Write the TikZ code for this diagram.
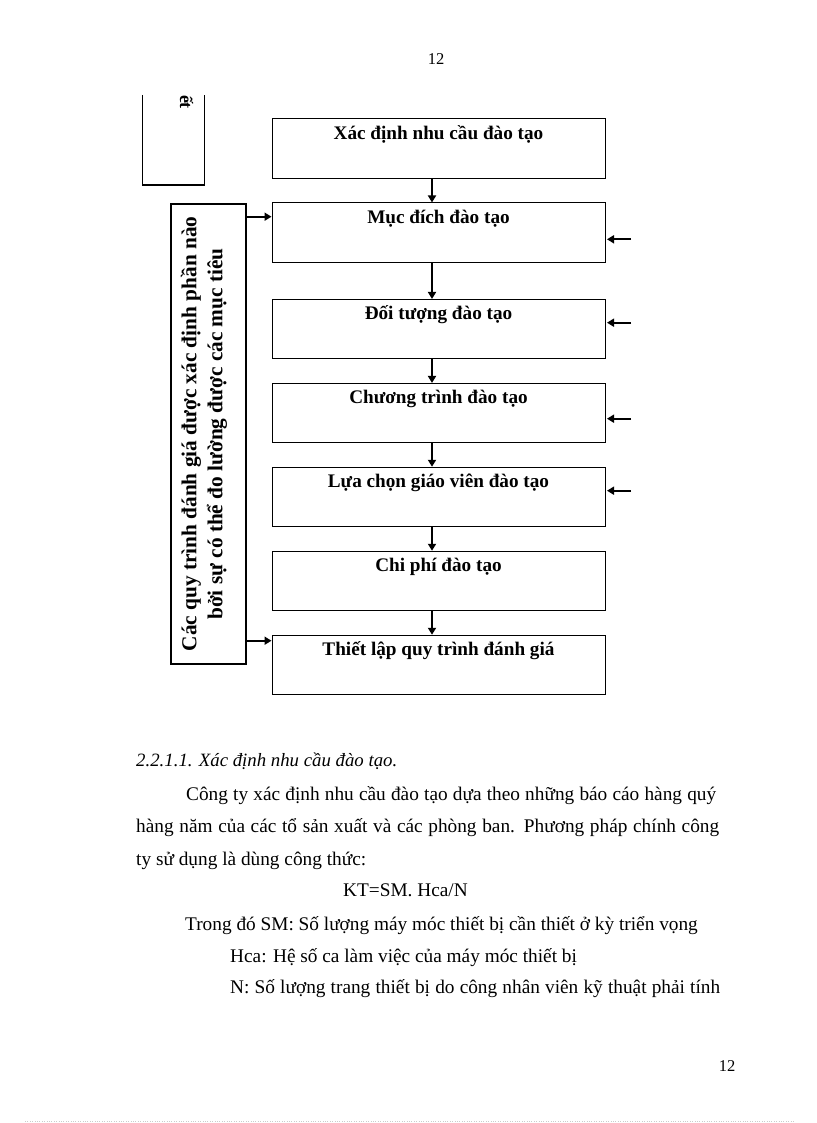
\documentclass[tikz,border=0pt]{standalone}
\usepackage{fontspec}
\setmainfont{Liberation Serif}
\usetikzlibrary{arrows.meta}

\begin{document}
\begin{tikzpicture}[x=1pt,y=1pt]
		\tikzstyle{every node}+=[inner sep=0pt]
		\tikzstyle{box}=[draw,line width=1pt,minimum width=333pt,minimum height=59.5pt]
		\tikzstyle{lbl}=[font=\fontsize{19.2}{22}\selectfont\bfseries]
		\tikzstyle{txt}=[anchor=base west,font=\fontsize{19.3}{22}\selectfont]
		\tikzstyle{arr}=[line width=2pt,-{Triangle[length=7pt,width=8pt]}]
		\useasboundingbox (0,0) rectangle (816,-1123);
		\node [font=\fontsize{16.5}{18}\selectfont] (pgtop) at (436,-59) {12};
		\draw [line width=1.3pt] (142.7,-95) -- (142.7,-185) -- (204.7,-185) -- (204.7,-95);
		\node [rotate=-90,font=\fontsize{18}{20}\selectfont\bfseries] (frag) at (186.5,-102) {ết};
		\node [box] (xd) at (438.5,-148.7) {};
		\node [lbl] (xdl) at ([yshift=-16]xd.north) {Xác định nhu cầu đào tạo};
		\node [box] (md) at (438.5,-232.7) {};
		\node [lbl] (mdl) at ([yshift=-16]md.north) {Mục đích đào tạo};
		\node [box] (dt) at (438.5,-329.2) {};
		\node [lbl] (dtl) at ([yshift=-16]dt.north) {Đối tượng đào tạo};
		\node [box] (ct) at (438.5,-413.2) {};
		\node [lbl] (ctl) at ([yshift=-16]ct.north) {Chương trình đào tạo};
		\node [box] (gv) at (438.5,-497) {};
		\node [lbl] (gvl) at ([yshift=-16]gv.north) {Lựa chọn giáo viên đào tạo};
		\node [box] (cp) at (438.5,-581) {};
		\node [lbl] (cpl) at ([yshift=-16]cp.north) {Chi phí đào tạo};
		\node [box] (tl) at (438.5,-665) {};
		\node [lbl] (tll) at ([yshift=-16]tl.north) {Thiết lập quy trình đánh giá};
		\node [draw,line width=1.8pt,minimum width=75pt,minimum height=460pt] (qt) at (208.5,-434) {};
		\node [rotate=90,align=center,font=\fontsize{21.3}{26}\selectfont\bfseries] (qtl) at (204,-434) {Các quy trình đánh giá được xác định phần nào\\bởi sự có thể đo lường được các mục tiêu};
		\coordinate (ax) at (432,0);
		\foreach \a/\b in {xd/md,md/dt,dt/ct,ct/gv,gv/cp,cp/tl}
			\draw [arr] (\a.south -| ax) -- (\b.north -| ax);
		\coordinate (l1) at (246,-216.7);
		\coordinate (l2) at (246,-640.7);
		\draw [arr] (qt.east |- l1) -- (md.west |- l1);
		\draw [arr] (qt.east |- l2) -- (tl.west |- l2);
		\coordinate (r1) at (631,-239.3);
		\coordinate (r2) at (631,-322.7);
		\coordinate (r3) at (631,-418.7);
		\coordinate (r4) at (631,-490.7);
		\draw [arr,shorten >=1.5pt] (r1) -- (md.east |- r1);
		\draw [arr,shorten >=1.5pt] (r2) -- (dt.east |- r2);
		\draw [arr,shorten >=1.5pt] (r3) -- (ct.east |- r3);
		\draw [arr,shorten >=1.5pt] (r4) -- (gv.east |- r4);
		\node [txt,font=\fontsize{18.8}{22}\selectfont\itshape] (head) at (136,-766.7) {2.2.1.1. Xác định nhu cầu đào tạo.};
		\node [txt] (p1) at (186,-800) {\makebox[530pt][s]{Công ty xác định nhu cầu đào tạo dựa theo những báo cáo hàng quý}};
		\node [txt] (p2) at (136,-832.7) {\makebox[583pt][s]{hàng năm của các tổ sản xuất và các phòng ban. Phương pháp chính công}};
		\node [txt] (p3) at (136,-865) {ty sử dụng là dùng công thức:};
		\node [txt] (kt) at (343,-896.7) {KT=SM. Hca/N};
		\node [txt] (sm) at (185,-930) {Trong đó SM: Số lượng máy móc thiết bị cần thiết ở kỳ triển vọng};
		\node [txt] (hca) at (230,-962) {Hca: Hệ số ca làm việc của máy móc thiết bị};
		\node [txt] (nn) at (230,-993) {\makebox[490pt][s]{N: Số lượng trang thiết bị do công nhân viên kỹ thuật phải tính}};
		\node [font=\fontsize{16.5}{18}\selectfont] (pgbot) at (727,-1066) {12};
		\draw [dotted,gray!40] (25,-1121) -- (795,-1121);
\end{tikzpicture}
\end{document}
